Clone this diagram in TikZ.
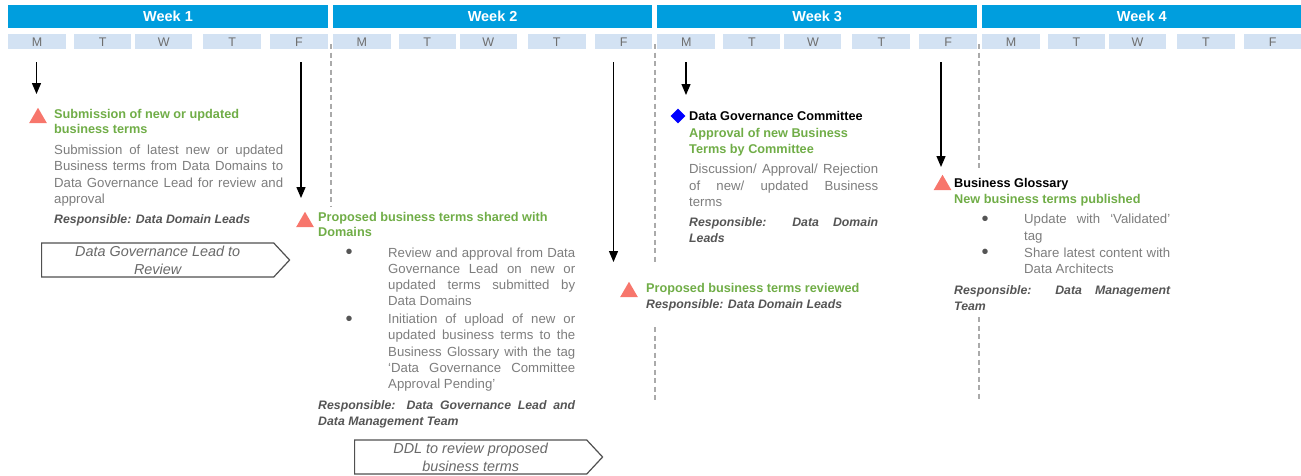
\documentclass[tikz,border=0pt]{standalone}
\usepackage{fontspec}
\setmainfont{Liberation Sans}
\usetikzlibrary{positioning, arrows.meta, shapes.geometric, shapes.symbols}

\definecolor{weekblue}{RGB}{0,158,222}
\definecolor{dayblue}{RGB}{211,226,243}
\definecolor{daygray}{RGB}{110,110,110}
\definecolor{stepgreen}{RGB}{112,173,71}
\definecolor{salmon}{RGB}{247,118,108}
\definecolor{bodygray}{RGB}{125,125,125}
\definecolor{respgray}{RGB}{85,85,85}
\definecolor{sepgray}{RGB}{170,170,170}
\definecolor{boxline}{RGB}{80,80,80}
\definecolor{boxtext}{RGB}{105,105,105}

\setlength{\parindent}{0pt}
\setlength{\parskip}{0pt}
\hyphenpenalty=10000
\exhyphenpenalty=10000
\tolerance=3000

\newcommand{\weekfont}{\fontsize{14.5pt}{16pt}\selectfont\bfseries}
\newcommand{\dayfont}{\fontsize{12.5pt}{14pt}\selectfont}
\newcommand{\stepfont}{\fontsize{12.7pt}{15.5pt}\selectfont\bfseries}
\newcommand{\bodyfont}{\fontsize{13.2pt}{16.2pt}\selectfont}
\newcommand{\respfont}{\fontsize{12.3pt}{16pt}\selectfont\bfseries\itshape}
\newcommand{\boxfont}{\fontsize{14.4pt}{17.8pt}\selectfont\itshape}

\newcommand{\blockgap}{\vspace{4.6pt}}
\newcommand{\bigdot}{\smash{\raisebox{-1.6pt}{\fontsize{20pt}{20pt}\selectfont\textbullet}}}
\newcommand{\keyname}[1]{{\stepfont\leavevmode\color{black}#1\par}}
\newcommand{\steptitle}[1]{{\stepfont\leavevmode\color{stepgreen}#1\par}}
\newcommand{\stepbody}[1]{{\bodyfont\leavevmode\color{bodygray}#1\par}}
\newcommand{\stepitem}[1]{{\bodyfont\leftskip=70pt\leavevmode\llap{\color{respgray}\bigdot\hspace{35.5pt}}\color{bodygray}#1\par}}
\newcommand{\resp}[1]{{\respfont\leavevmode\color{respgray}#1\par}}

\begin{document}
\begin{tikzpicture}[x=1pt, y=-1pt,
weekbar/.style={rectangle, fill=weekblue, text=white, font=\weekfont, minimum width=319.6pt, minimum height=23pt, inner sep=0pt},
daycell/.style={rectangle, fill=dayblue, text=daygray, font=\dayfont, minimum height=15pt, inner sep=0pt},
milestone/.style={regular polygon, regular polygon sides=3, fill=salmon, minimum size=20.5pt, inner sep=0pt},
decision/.style={diamond, fill=blue, minimum size=15pt, inner sep=0pt},
note/.style={anchor=base west, align=justify, inner sep=0pt},
handoff/.style={signal, signal to=east, signal pointer angle=94, draw=boxline, line width=1.2pt, fill=white, text=boxtext, font=\boxfont, align=center, minimum height=34pt, minimum width=248pt, inner sep=0pt},
flow/.style={line width=1.3pt, -{Triangle[width=9pt,length=11pt]}},
weekline/.style={draw=sepgray, line width=1.2pt, dash pattern=on 5pt off 3.5pt}]
\useasboundingbox (0,0) rectangle (1301,475);

% week header and days
\foreach \w in {1,...,4} {
  \pgfmathsetmacro{\sx}{8+(\w-1)*324.6}
  \node[weekbar, anchor=north west] (week\w) at (\sx,5) {Week \w};
  \foreach \d/\a/\b [count=\i] in {M/0/58, T/66/123, W/127/184, T/195/253, F/262/319.6}
    \node[daycell, minimum width=\b-\a, anchor=north west] (day\w\i) at ({\sx+\a},34) {\d};
}

% week separators
\draw[weekline] (331,44) -- (331,207);
\draw[weekline] (655,44) -- (655,262);
\draw[weekline] (655,327) -- (655,400);
\draw[weekline] (979,44) -- (979,170);
\draw[weekline] (979,317) -- (979,400);

% arrows down from the days
\foreach \x/\y [count=\i] in {36.5/94, 301/198, 613.5/262, 686/95, 941/167} {
  \coordinate (top\i) at (\x,62);
  \coordinate (tip\i) at (\x,\y);
  \draw[flow] (top\i) -- (tip\i);
}

% markers
\node[milestone] (m1) at (38,118) {};
\node[milestone] (m2) at (305,222) {};
\node[milestone] (m3) at (629,292) {};
\node[decision] (d1) at (678,116) {};
\node[milestone] (m4) at (942.5,185) {};

% week 1
\node[note, text width=229pt] (submit) at (54,118.3) {%
\steptitle{Submission of new or updated\\business terms}\blockgap
\stepbody{Submission of latest new or updated\linebreak Business terms from Data Domains to\linebreak Data Governance Lead for review and\linebreak approval}\blockgap
\resp{Responsible: Data Domain Leads}};

\node[handoff, anchor=west] (review1) at (41,260) {Data Governance Lead to\\Review};

% week 2
\node[note, text width=257pt] (shared) at (318,221) {%
\steptitle{Proposed business terms shared with\\Domains}\blockgap
\stepitem{Review and approval from Data\linebreak Governance Lead on new or\linebreak updated terms submitted by\linebreak Data Domains}\vspace{1.5pt}
\stepitem{Initiation of upload of new or\linebreak updated business terms to the\linebreak Business Glossary with the tag\linebreak ‘Data Governance Committee\linebreak Approval Pending’}\blockgap
\resp{Responsible: Data Governance Lead and\linebreak Data Management Team}};

\node[handoff, anchor=west] (review2) at (354,457) {DDL to review proposed\\business terms};

\node[note, text width=240pt] (reviewed) at (646,292) {%
\steptitle{Proposed business terms reviewed}
\resp{Responsible: Data Domain Leads}};

% week 3
\node[note, text width=189pt] (committee) at (689,120) {%
\keyname{Data Governance Committee}\vspace{2pt}
\steptitle{Approval of new Business\\Terms by Committee}\blockgap
\stepbody{Discussion/ Approval/ Rejection\linebreak of new/ updated Business\linebreak terms}\blockgap
\resp{Responsible: Data Domain\linebreak Leads}};

% week 4
\node[note, text width=216pt] (glossary) at (954,187) {%
\keyname{Business Glossary}\vspace{0.5pt}
\steptitle{New business terms published}\blockgap
\stepitem{Update with ‘Validated’\linebreak tag}\vspace{1pt}
\stepitem{Share latest content with\linebreak Data Architects}\blockgap
\resp{Responsible: Data Management\linebreak Team}};
\end{tikzpicture}
\end{document}
